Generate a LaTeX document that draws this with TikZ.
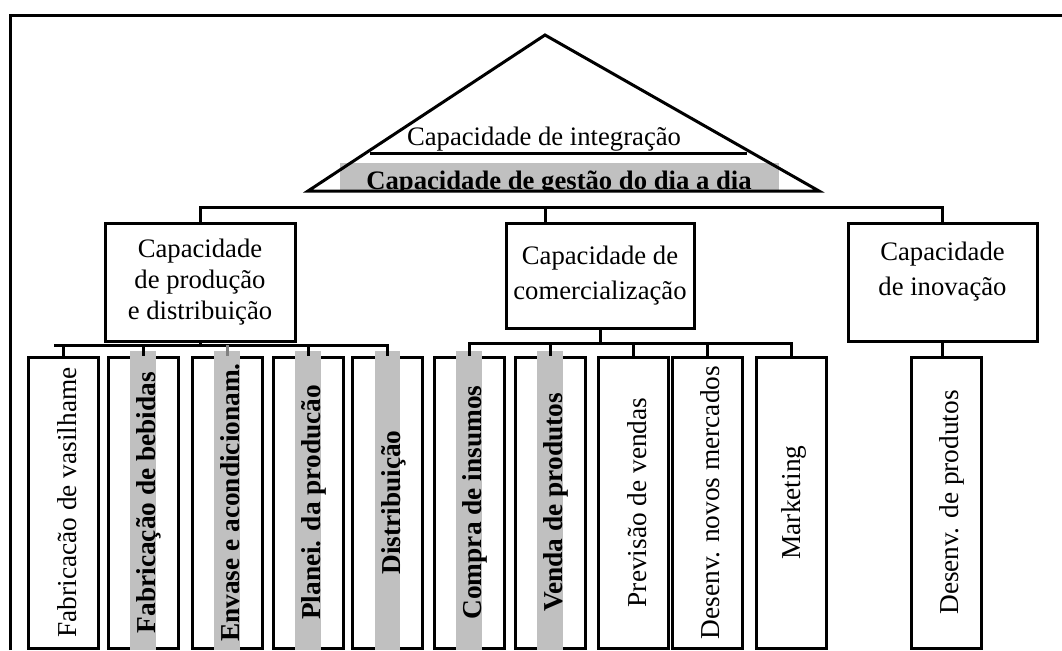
\documentclass[tikz,border=0pt]{standalone}
\usepackage{fontspec}
\setmainfont{Liberation Serif}
\usepackage{tikz}
\usetikzlibrary{positioning}
\definecolor{stripgray}{RGB}{192,192,192}

\begin{document}
\begin{tikzpicture}[x = 0.75pt, y = -0.75pt, line width = 2.25pt,
  mainbox/.style={rectangle, draw, align = center, inner sep = 0pt, font = \fontsize{20}{23.25}\selectfont},
  leaf/.style={rectangle, draw, minimum width = 52.5pt, minimum height = 218.25pt, inner sep = 0pt},
  leaftext/.style={rotate = 90, anchor = base, inner sep = 0pt, font = \fontsize{20.5}{24}\selectfont},
  leafbold/.style={leaftext, font = \fontsize{20.5}{24}\selectfont\bfseries},
  strip/.style={rectangle, fill = stripgray, minimum width = 19pt, minimum height = 224.25pt, inner sep = 0pt, outer sep = 0pt}]
  \useasboundingbox (0,0) rectangle (1062,650);

  % frame
  \draw (10,650) -- (10,15) -- (1062,15);

  % pyramid
  \coordinate (apex) at (545,35);
  \coordinate (baseW) at (308,191);
  \coordinate (baseE) at (819,191);
  \fill [stripgray] (340,163) rectangle (779,191);
  \begin{scope}
    \clip (340,163) rectangle (779,191);
    \node [anchor = base, inner sep = 0pt, font = \fontsize{20}{24}\selectfont\bfseries] (gestao) at (559,189) {Capacidade de gestão do dia a dia};
  \end{scope}
  \draw (baseW) -- (apex) -- (baseE) -- cycle;
  \draw (370,153) -- (747,153);
  \node [anchor = base, inner sep = 0pt, font = \fontsize{20}{24}\selectfont] (integ) at (544,145) {Capacidade de integração};

  % main boxes
  \node [mainbox, minimum width = 142.5pt, minimum height = 88.5pt] (prod) at (200,282) {Capacidade\\de produção\\e distribuição};
  \node [mainbox, minimum width = 141pt, minimum height = 78.75pt, font = \fontsize{20}{26.25}\selectfont] (comerc) at (600,275.5) {Capacidade de\\comercialização};
  \node [mainbox, minimum width = 141.75pt, minimum height = 88.5pt] (inov) at (942.5,282) {};
  \node [align = center, inner sep = 0pt, font = \fontsize{20}{26.25}\selectfont] (inovtext) at ([yshift = 7.5pt]inov.center) {Capacidade\\de inovação};

  % leaf boxes
  \node [leaf] (vasil) at (63.5,502.5) {};
  \node [leaf][right = 4.875pt of vasil] (bebid) {};
  \node [leaf][right = 8.25pt of bebid] (envase) {};
  \node [leaf][right = 6pt of envase] (planej) {};
  \node [leaf][right = 4.875pt of planej] (distr) {};
  \node [leaf][right = 6.375pt of distr] (compra) {};
  \node [leaf][right = 6pt of compra] (venda) {};
  \node [leaf][right = 7.875pt of venda] (previs) {};
  \node [leaf][right = 0.375pt of previs] (mercad) {};
  \node [leaf][right = 8.25pt of mercad] (market) {};
  \node [leaf][right = 61.5pt of market] (desprod) {};

  % highlight strips
  \node [strip] (bebidstrip) at ([yshift = 1.5pt]bebid.center) {};
  \node [strip] (envasestrip) at ([yshift = 1.5pt]envase.center) {};
  \node [strip] (planejstrip) at ([yshift = 1.5pt]planej.center) {};
  \node [strip] (distrstrip) at ([yshift = 1.5pt]distr.center) {};
  \node [strip] (comprastrip) at ([yshift = 1.5pt]compra.center) {};
  \node [strip] (vendastrip) at ([yshift = 1.5pt]venda.center) {};

  % edges
  \coordinate (bus) at (545,207);
  \draw (prod.north) |- (bus) -| (inov.north);
  \draw (bus) -- (bus |- comerc.north);

  \coordinate (prodbus) at (54,345);
  \draw (prod.south) -- (prod.south |- prodbus);
  \draw (prodbus) -| (distr.north);
  \draw (vasil.north |- prodbus) -- (vasil.north);
  \draw (bebid.north |- prodbus) -- (bebid.north);
  \draw [gray] (envase.north |- prodbus) -- (envase.north);
  \draw (planej.north |- prodbus) -- (planej.north);

  \coordinate (combus) at (600,343);
  \draw (comerc.south) -- (comerc.south |- combus);
  \draw (compra.north) |- (market.north |- combus) -- (market.north);
  \draw (venda.north |- combus) -- (venda.north);
  \draw (previs.north |- combus) -- (previs.north);
  \draw (mercad.north |- combus) -- (mercad.north);

  \draw (inov.south) -- (inov.south |- desprod.north);

  % leaf labels
  \node [leaftext] (vasiltext) at ([xshift = 9.5pt]vasil.center) {Fabricacão de vasilhame};
  \node [leafbold] (bebidtext) at ([xshift = 9.5pt]bebid.center) {Fabricação de bebidas};
  \node [leafbold] (envasetext) at ([xshift = 9.5pt]envase.center) {Envase e acondicionam.};
  \node [leafbold] (planejtext) at ([xshift = 9.5pt]planej.center) {Planei. da producão};
  \node [leafbold] (distrtext) at ([xshift = 9.5pt]distr.center) {Distribuição};
  \node [leafbold] (compratext) at ([xshift = 9.5pt]compra.center) {Compra de insumos};
  \node [leafbold] (vendatext) at ([xshift = 9.5pt]venda.center) {Venda de produtos};
  \node [leaftext] (previstext) at ([xshift = 9.5pt]previs.center) {Previsão de vendas};
  \node [leaftext] (mercadtext) at ([xshift = 9.5pt]mercad.center) {Desenv. novos mercados};
  \node [leaftext] (markettext) at ([xshift = 7pt]market.center) {Marketing};
  \node [leaftext] (desprodtext) at ([xshift = 9.5pt]desprod.center) {Desenv. de produtos};
\end{tikzpicture}
\end{document}
